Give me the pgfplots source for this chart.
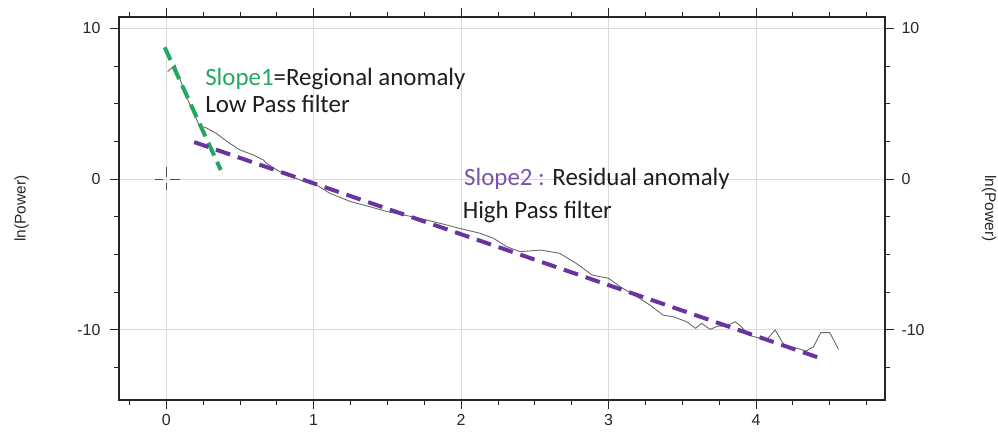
\documentclass[border=0pt]{standalone}
\usepackage{fontspec}
\setmainfont{Liberation Sans}
\newfontfamily\calibri{Carlito}
\usepackage{pgfplots}
\pgfplotsset{compat=1.18}
\definecolor{slopegreen}{RGB}{34,168,96}
\definecolor{slopepurple}{RGB}{106,52,160}
\definecolor{textpurple}{RGB}{122,84,166}
\definecolor{gridgrey}{RGB}{218,218,218}
\definecolor{curvegrey}{RGB}{105,105,105}
\definecolor{textdark}{RGB}{30,30,30}
\begin{document}
\begin{tikzpicture}
\pgfplotsset{
 common/.style={
  scale only axis, width=766bp, height=383bp,
  xmin=-0.32, xmax=4.875, ymin=-14.68, ymax=10.76,
  tick align=outside,
  major tick length=9bp, minor tick length=4.5bp,
  every tick/.style={black!85, line width=0.8pt},
  ytick={-10,0,10}, minor ytick={-12.5,-7.5,-5,-2.5,2.5,5,7.5},
  tick label style={font=\fontsize{16}{19}\selectfont, text=black!85},
  /pgf/number format/assume math mode=true,
  axis line style={-, line width=1.3pt, black!85},
  label style={font=\fontsize{15.5}{18}\selectfont, text=black!85},
 }
}
\begin{axis}[common,
  xtick={0,1,2,3,4},
  minor xtick={-0.25,0.25,0.5,0.75,1.25,1.5,1.75,2.25,2.5,2.75,3.25,3.5,3.75,4.25,4.5,4.75},
  xtick pos=both, xticklabel pos=lower,
  ytick pos=left,
  yticklabel style={xshift=-6bp},
  xticklabel style={yshift=-2bp},
  grid=major, major grid style={gridgrey, line width=0.6pt},
  ylabel={ln(Power)},
  ylabel style={at={(axis description cs:-0.127,0.5)}, anchor=center},
  clip=false,
]
% crosshair at origin
\addplot[black!70, line width=0.8pt, unbounded coords=jump] coordinates {
 (-0.075,0) (-0.022,0) (0,nan) (0.027,0) (0.095,0) (0,nan)
 (0,0.8) (0,0.15) (0,nan) (0,-0.27) (0,-0.75)};
% power spectrum
\addplot[curvegrey, line width=0.9pt] coordinates {
 (0.01,7.13) (0.06,7.57) (0.12,5.9) (0.185,4.36) (0.23,3.47) (0.265,3.43)
 (0.34,3.03) (0.43,2.37) (0.50,1.93) (0.59,1.6) (0.66,1.26) (0.68,1.04)
 (0.77,0.49) (0.91,-0.07) (1.02,-0.4) (1.11,-0.95) (1.25,-1.5) (1.38,-1.84)
 (1.50,-2.17) (1.61,-2.39) (1.72,-2.61) (1.86,-2.95) (1.99,-3.28) (2.13,-3.61)
 (2.22,-3.94) (2.31,-4.5) (2.40,-4.83) (2.54,-4.72) (2.67,-4.94) (2.78,-5.6)
 (2.89,-6.38) (3.0,-6.6) (3.08,-7.16) (3.21,-7.93) (3.28,-8.37) (3.37,-9.04)
 (3.44,-9.15) (3.53,-9.48) (3.59,-9.92) (3.63,-9.59) (3.69,-9.99) (3.74,-9.77)
 (3.80,-9.77) (3.86,-9.48) (3.90,-9.81) (3.95,-10.37) (4.07,-10.7) (4.13,-10.03)
 (4.19,-11.03) (4.28,-11.25) (4.34,-11.43) (4.39,-11.14) (4.44,-10.2) (4.50,-10.2)
 (4.56,-11.32)};
% slope 1
\addplot[slopegreen, line width=4bp, dash pattern=on 14bp off 7bp] coordinates {(-0.01,8.75) (0.37,0.6)};
% slope 2
\addplot[slopepurple, line width=4bp, dash pattern=on 15bp off 8bp] coordinates {(0.19,2.45) (4.45,-11.95)};
\node[anchor=base west, inner sep=0, font=\calibri\fontsize{25}{30}\selectfont, text=textdark]
  at (axis cs:0.264,6.18) {\textcolor{slopegreen}{Slope1}=Regional anomaly};
\node[anchor=base west, inner sep=0, font=\calibri\fontsize{25}{30}\selectfont, text=textdark]
  at (axis cs:0.264,4.39) {Low Pass filter};
\node[anchor=base west, inner sep=0, font=\calibri\fontsize{25}{30}\selectfont, text=textdark]
  at (axis cs:2.02,-0.4) {\textcolor{textpurple}{Slope2 :} Residual anomaly};
\node[anchor=base west, inner sep=0, font=\calibri\fontsize{25}{30}\selectfont, text=textdark]
  at (axis cs:2.01,-2.61) {High Pass filter};
\end{axis}
\begin{axis}[common,
  axis x line=none, axis y line*=right,
  yticklabel style={xshift=4bp},
  ylabel={ln(Power)},
  ylabel style={at={(axis description cs:1.136,0.5)}, anchor=center, rotate=180},
]
\end{axis}
\pgfresetboundingbox
\path ([xshift=-119bp,yshift=-33bp]current axis.south west) rectangle ([xshift=113bp,yshift=17bp]current axis.north east);
\end{tikzpicture}
\end{document}
